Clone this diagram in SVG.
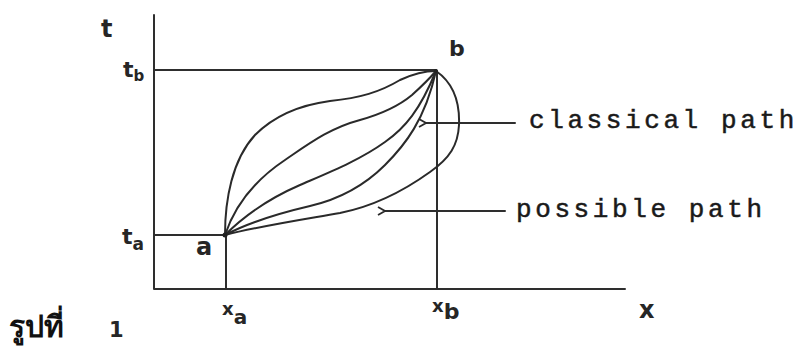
<svg xmlns="http://www.w3.org/2000/svg" width="800" height="352" viewBox="0 0 800 352">
<defs>
<style>
.ln{stroke:#2e2e2e;stroke-width:2;fill:none;stroke-linecap:round;stroke-linejoin:round}
.cv{stroke:#2a2a2a;stroke-width:2;fill:none;stroke-linecap:round}
.hand{font-family:"DejaVu Sans","Liberation Sans",sans-serif;fill:#262626;font-weight:bold}
.mono{font-family:"Liberation Mono","Courier New",monospace;fill:#1a1a1a;stroke:#1a1a1a;stroke-width:0.5;font-size:26px;letter-spacing:3.6px}
.thai{font-family:"Noto Sans","DejaVu Sans",sans-serif;fill:#111;font-weight:bold}
</style>
<marker id="ah" viewBox="0 0 10 10" refX="1" refY="5" markerWidth="10" markerHeight="10" markerUnits="userSpaceOnUse" orient="auto">
<path d="M8,1 L1,5 L8,9" fill="none" stroke="#2a2a2a" stroke-width="1.8"/>
</marker>
</defs>
<rect width="800" height="352" fill="#ffffff"/>
<g id="axes">
<path class="ln" d="M154,15 L154,289 L625,289"/>
<path class="ln" d="M154,70 L436,70"/>
<path class="ln" d="M154,235 L225,235"/>
<path class="ln" d="M226,236 L226,288"/>
<path class="ln" d="M437,71 L437,288" stroke-width="1.5"/>
</g>
<g id="paths">
<path class="cv" d="M225,235 C225,200 232,160 255,135 C275,115 300,105 330,101 C360,98 380,92 400,80 C415,73 425,71 436,71"/>
<path class="cv" d="M225,235 C235,205 255,180 285,160 C310,143 330,128 360,120 C385,113 400,105 412,95 C422,86 430,78 436,71"/>
<path class="cv" d="M225,235 C245,215 270,198 300,185 C330,172 360,160 385,142 C405,128 420,110 436,71"/>
<path class="cv" d="M225,235 C250,222 280,213 310,206 C340,199 365,185 385,165 C405,145 425,120 436,71"/>
<path class="cv" d="M225,235 C260,226 300,220 340,213 C375,206 405,190 430,172 C450,158 458,145 459,125 C460,100 452,82 436,71"/>
</g>
<g id="point-a">
<circle cx="225" cy="235" r="2.5" fill="#222"/>
<text class="hand" x="196" y="255" font-size="24">a</text>
</g>
<g id="point-b">
<circle cx="436" cy="71" r="2" fill="#222"/>
<text class="hand" x="449" y="56" font-size="22" font-weight="normal">b</text>
</g>
<g id="axis-labels">
<text class="hand" x="101" y="37" font-size="24">t</text>
<text class="hand" x="123" y="77" font-size="22">t<tspan font-size="15" dy="4">b</tspan></text>
<text class="hand" x="122" y="244" font-size="22">t<tspan font-size="17" dy="6">a</tspan></text>
<text class="hand" x="222" y="315" font-size="18">x<tspan font-size="20" dy="9">a</tspan></text>
<text class="hand" x="432" y="312" font-size="18">x<tspan font-size="22" dy="7">b</tspan></text>
<text class="hand" x="639" y="318" font-size="24">x</text>
</g>
<g id="connectors">
<path class="ln" stroke-width="1.6" d="M515,123 L426,123" marker-end="url(#ah)"/>
<path class="ln" stroke-width="1.6" d="M505,211 L385,211" marker-end="url(#ah)"/>
</g>
<g id="callout-labels">
<text class="mono" x="529" y="128">classical path</text>
<text class="mono" x="516" y="217">possible path</text>
</g>
<g id="caption">
<text class="thai" x="9" y="337" font-size="30">รูปที่</text>
<text class="hand" x="109" y="337" font-size="21">1</text>
</g>
</svg>
